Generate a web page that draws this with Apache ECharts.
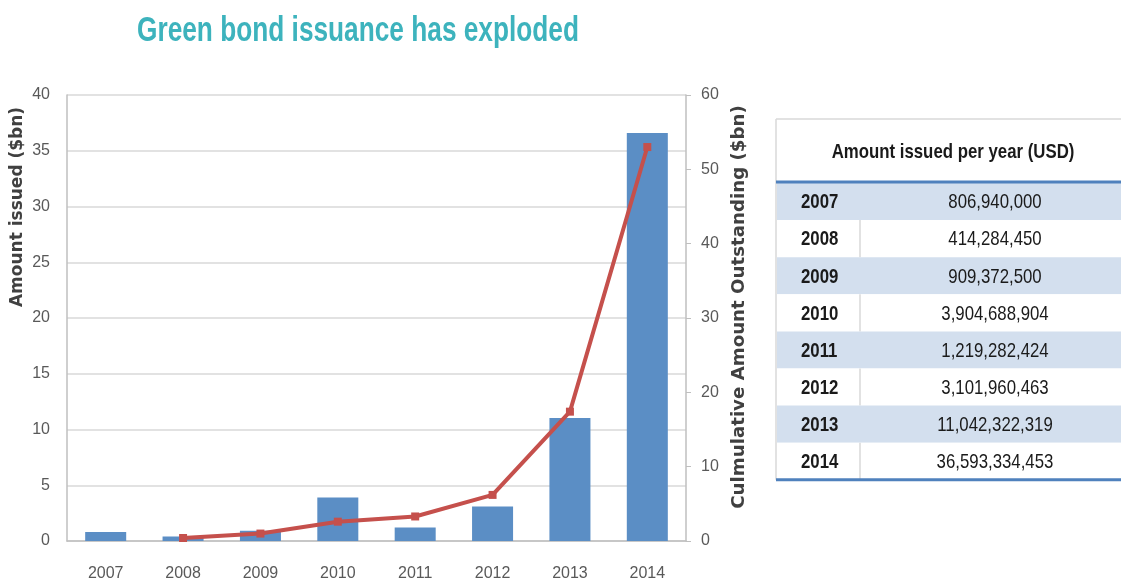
<!DOCTYPE html>
<html>
<head>
<meta charset="utf-8">
<style>
  html, body { margin: 0; padding: 0; background: #ffffff; }
  #chart { width: 1121px; height: 582px; }
</style>
<script src="https://cdn.jsdelivr.net/npm/echarts@6/dist/echarts.min.js"></script>
</head>
<body>
<div id="chart"></div>
<script>
// ---------- data ----------
const titleText = 'Green bond issuance has exploded';
const categories = ['2007', '2008', '2009', '2010', '2011', '2012', '2013', '2014'];
// Amount issued per year, $bn (bars, left axis)
const amountIssuedBn = [0.81, 0.41, 0.91, 3.90, 1.22, 3.10, 11.04, 36.59];
// Cumulative amount outstanding, $bn (line, right axis)
const cumulativeOutstandingBn = [null, 0.4, 1.0, 2.6, 3.3, 6.2, 17.4, 53.0];
// Table values: amount issued per year (USD)
const tableHeader = 'Amount issued per year (USD)';
const tableYears = ['2007', '2008', '2009', '2010', '2011', '2012', '2013', '2014'];
const tableValues = ['806,940,000', '414,284,450', '909,372,500', '3,904,688,904',
                     '1,219,282,424', '3,101,960,463', '11,042,322,319', '36,593,334,453'];
const leftAxisName = 'Amount issued ($bn)';
const rightAxisName = 'Culmulative Amount Outstanding ($bn)';

// ---------- styles ----------
const SANS = '"Liberation Sans", Arial, sans-serif';
const BAR_COLOR = '#5B8EC5';
const LINE_COLOR = '#C5504C';
const AXIS_GRAY = '#BFBFBF';
const LABEL_GRAY = '#595959';
const NARROW_SCALE = 0.8;

const els = [];

// title (condensed look via horizontal scale)
els.push({ type: 'text', x: 358, y: 31, scaleX: 0.75,
  style: { text: titleText, font: 'bold 35px ' + SANS, fill: '#3DB3BD', textAlign: 'center', textVerticalAlign: 'middle' } });

// ---------- table graphic built from arrays ----------
const tbl = { x: 776, right: 1121, top: 119, headBottom: 182, rowTop: 183, rowH: 37.1, divX: 860, yearX: 801, valX: 995, headX: 953 };
els.push({ type: 'line', shape: { x1: tbl.x, y1: tbl.top, x2: tbl.right, y2: tbl.top }, style: { stroke: '#D9D9D9', lineWidth: 1.5 } });
els.push({ type: 'text', x: tbl.headX, y: (tbl.top + tbl.headBottom) / 2 + 2, scaleX: NARROW_SCALE,
  style: { text: tableHeader, font: 'bold 21px ' + SANS, fill: '#1a1a1a', textAlign: 'center', textVerticalAlign: 'middle' } });
tableYears.forEach(function (yr, i) {
  const y0 = tbl.rowTop + i * tbl.rowH;
  const shaded = i % 2 === 0;
  els.push({ type: 'rect', shape: { x: tbl.x + 1, y: y0, width: tbl.right - tbl.x - 1, height: tbl.rowH },
    style: { fill: shaded ? '#D3DFEE' : '#FFFFFF' } });
  if (!shaded) {
    els.push({ type: 'line', shape: { x1: tbl.divX, y1: y0, x2: tbl.divX, y2: y0 + tbl.rowH }, style: { stroke: '#D9D9D9', lineWidth: 1.5 } });
  }
  els.push({ type: 'text', x: tbl.yearX, y: y0 + tbl.rowH / 2 + 1, scaleX: NARROW_SCALE,
    style: { text: yr, font: 'bold 21px ' + SANS, fill: '#1a1a1a', textAlign: 'left', textVerticalAlign: 'middle' } });
  els.push({ type: 'text', x: tbl.valX, y: y0 + tbl.rowH / 2 + 1, scaleX: NARROW_SCALE,
    style: { text: tableValues[i], font: '21px ' + SANS, fill: '#1a1a1a', textAlign: 'center', textVerticalAlign: 'middle' } });
});
const tableBottom = tbl.rowTop + tableYears.length * tbl.rowH;
els.push({ type: 'line', shape: { x1: tbl.x, y1: tbl.top, x2: tbl.x, y2: tableBottom }, style: { stroke: '#D9D9D9', lineWidth: 1.5 } });
els.push({ type: 'line', shape: { x1: tbl.x, y1: tbl.headBottom, x2: tbl.right, y2: tbl.headBottom }, style: { stroke: '#4F81BD', lineWidth: 3 } });
els.push({ type: 'line', shape: { x1: tbl.x, y1: tableBottom, x2: tbl.right, y2: tableBottom }, style: { stroke: '#4F81BD', lineWidth: 3 } });

// axis names as rotated text
els.push({ type: 'text', x: 18, y: 207, rotation: Math.PI / 2,
  style: { text: leftAxisName, font: 'bold 17px "DejaVu Sans", sans-serif', fill: '#404040', textAlign: 'center', textVerticalAlign: 'middle' } });
els.push({ type: 'text', x: 740, y: 307, rotation: Math.PI / 2, scaleX: 1.07,
  style: { text: rightAxisName, font: 'bold 17px "DejaVu Sans", sans-serif', fill: '#404040', textAlign: 'center', textVerticalAlign: 'middle' } });

// ---------- chart ----------
const chart = echarts.init(document.getElementById('chart'), null, { renderer: 'canvas' });
chart.setOption({
  animation: false,
  backgroundColor: '#ffffff',
  grid: { left: 67, right: 435, top: 95, bottom: 41, containLabel: false },
  xAxis: {
    type: 'category',
    data: categories,
    axisLine: { lineStyle: { color: AXIS_GRAY, width: 1.5 } },
    axisTick: { show: false },
    axisLabel: { color: LABEL_GRAY, fontSize: 16, fontFamily: SANS, margin: 25 }
  },
  yAxis: [
    {
      type: 'value', min: 0, max: 40, interval: 5, position: 'left',
      axisLine: { show: true, lineStyle: { color: AXIS_GRAY, width: 1.5 } },
      axisTick: { show: false },
      splitLine: { show: true, lineStyle: { color: '#D9D9D9', width: 1.5 } },
      axisLabel: { color: LABEL_GRAY, fontSize: 16, fontFamily: SANS, margin: 17 }
    },
    {
      type: 'value', min: 0, max: 60, interval: 10, position: 'right',
      axisLine: { show: true, lineStyle: { color: AXIS_GRAY, width: 1.5 } },
      axisTick: { show: true, length: 5, lineStyle: { color: AXIS_GRAY } },
      splitLine: { show: false },
      axisLabel: { color: LABEL_GRAY, fontSize: 16, fontFamily: SANS, margin: 15 }
    }
  ],
  series: [
    {
      name: 'Amount issued',
      type: 'bar',
      yAxisIndex: 0,
      data: amountIssuedBn,
      barWidth: '53%',
      itemStyle: { color: BAR_COLOR }
    },
    {
      name: 'Cumulative outstanding',
      type: 'line',
      yAxisIndex: 1,
      data: cumulativeOutstandingBn,
      connectNulls: false,
      symbol: 'rect',
      symbolSize: 8,
      lineStyle: { color: LINE_COLOR, width: 4 },
      itemStyle: { color: LINE_COLOR }
    }
  ],
  graphic: els
});
</script>
</body>
</html>
